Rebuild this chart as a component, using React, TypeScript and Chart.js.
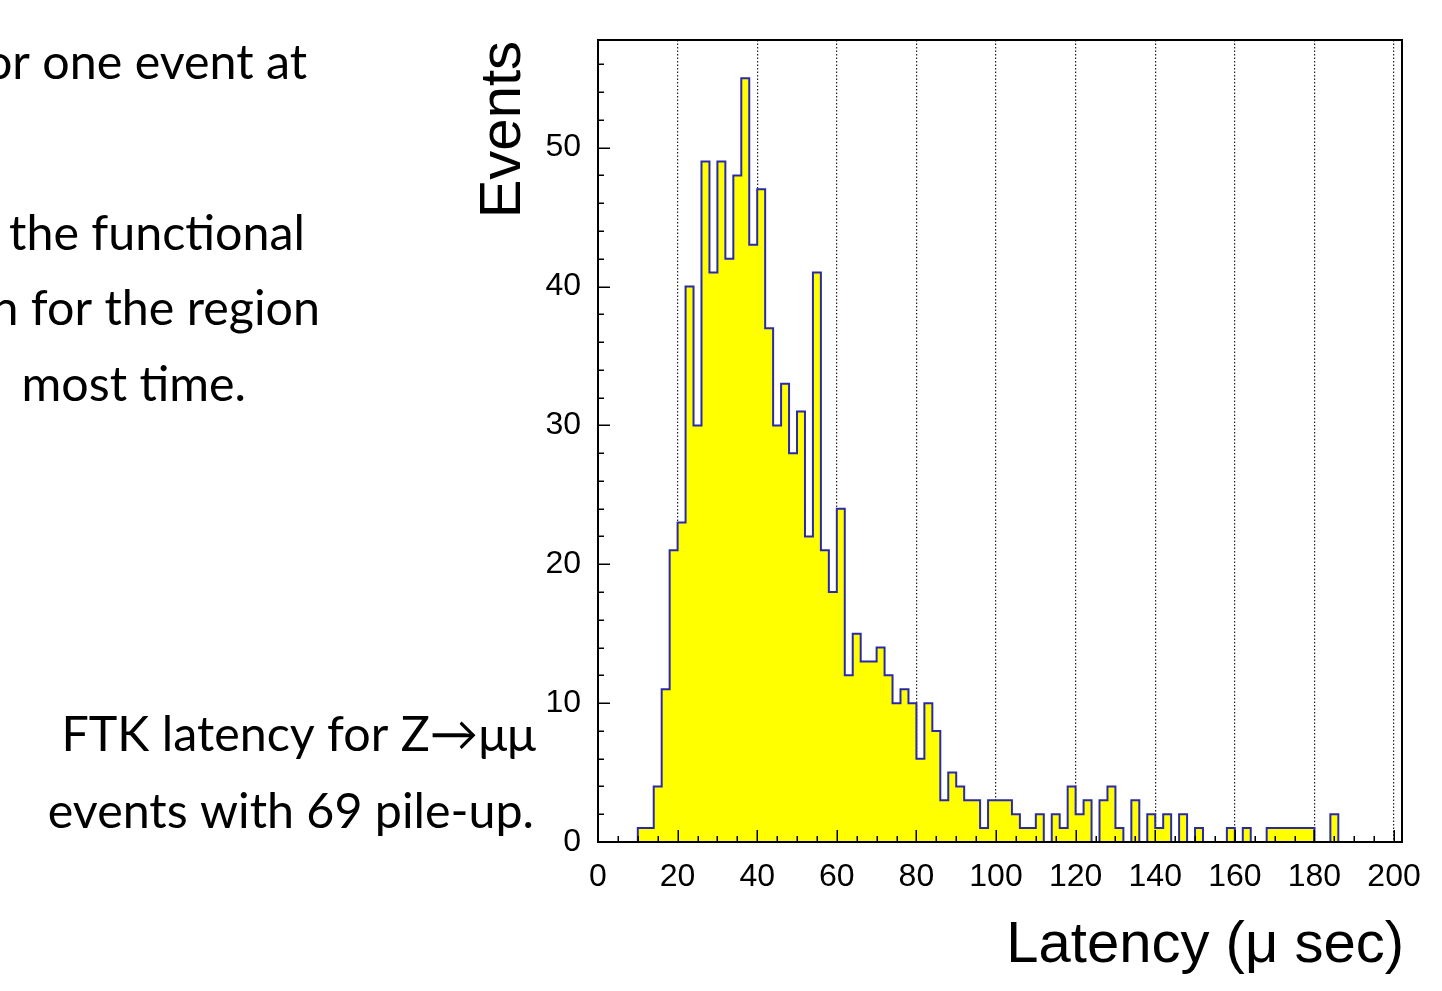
import React, { useEffect, useRef } from "react";
import { Chart, registerables } from "chart.js";

Chart.register(...registerables);

// ---- Data ----
const binStart = 0; // µs, left edge of first bin
const binWidth = 2; // µs
// Events per 2 µs bin, from 0 to 202 µs
const counts = [
  0, 0, 0, 0, 0, // 0-10
  1, 1, 4, 11, 21, // 10-20
  23, 40, 30, 49, 41, // 20-30
  49, 42, 48, 55, 43, // 30-40
  47, 37, 30, 33, 28, // 40-50
  31, 22, 41, 21, 18, // 50-60
  24, 12, 15, 13, 13, // 60-70
  14, 12, 10, 11, 10, // 70-80
  6, 10, 8, 3, 5, // 80-90
  4, 3, 3, 1, 3, // 90-100
  3, 3, 2, 1, 1, // 100-110
  2, 0, 2, 1, 4, // 110-120
  2, 3, 0, 3, 4, // 120-130
  1, 0, 3, 0, 2, // 130-140
  1, 2, 0, 2, 0, // 140-150
  1, 0, 0, 0, 1, // 150-160
  0, 1, 0, 0, 1, // 160-170
  1, 1, 1, 1, 1, // 170-180
  0, 0, 2, 0, 0, // 180-190
  0, 0, 0, 0, 0, // 190-200
  0, // 200-202
];

const xRange = [0, 202];
const yRange = [0, 57.75];
const xMajorStep = 20;
const xMinorStep = 5;
const yMajorStep = 10;
const yMinorStep = 2;

const xTitle = "Latency (\u03bc sec)";
const yTitle = "Events";

const slideLines = [
  "or one event at",
  "the functional",
  "n for the region",
  "most time.",
];
const captionLines = ["FTK latency for Z\u2192\u03bc\u03bc", "events with 69 pile-up."];

const HELV = "'Liberation Sans', Arial, Helvetica, sans-serif";
const BODY = "Lato, 'Noto Sans', sans-serif";

const decorations = {
  id: "decorations",
  afterDatasetsDraw(chart: any) {
    const { ctx, chartArea: a, scales } = chart;
    const x = scales.x;
    const y = scales.y;
    ctx.save();
    ctx.strokeStyle = "#000";
    ctx.lineWidth = 1.5;
    ctx.beginPath();
    for (let v = yRange[0]; v <= yRange[1]; v += yMinorStep) {
      const py = Math.round(y.getPixelForValue(v)) + 0.25;
      const len = v % yMajorStep === 0 ? 12 : 6;
      ctx.moveTo(a.left, py);
      ctx.lineTo(a.left + len, py);
    }
    for (let v = xRange[0]; v <= xRange[1]; v += xMinorStep) {
      const px = Math.round(x.getPixelForValue(v)) + 0.25;
      const len = v % xMajorStep === 0 ? 12 : 6;
      ctx.moveTo(px, a.bottom);
      ctx.lineTo(px, a.bottom - len);
    }
    ctx.stroke();
    ctx.lineWidth = 2;
    ctx.strokeRect(a.left, a.top, a.right - a.left, a.bottom - a.top);
    ctx.restore();
  },
  afterDraw(chart: any) {
    const { ctx } = chart;
    ctx.save();
    ctx.fillStyle = "#000";
    // axis titles
    ctx.font = `58px ${HELV}`;
    ctx.textAlign = "right";
    ctx.textBaseline = "alphabetic";
    ctx.fillText(xTitle, 1404, 962);
    ctx.save();
    ctx.translate(520, 41);
    ctx.rotate(-Math.PI / 2);
    ctx.fillText(yTitle, 0, 0);
    ctx.restore();

    // slide text
    ctx.font = `50px ${BODY}`;
    const w = ctx.measureText(slideLines[1]).width;
    const size = (50 * 296) / w;
    ctx.font = `${size}px ${BODY}`;
    ctx.textAlign = "right";
    const slideX = [307, 305, 320, 246];
    const slideY = [79, 250, 325, 401];
    slideLines.forEach((t, i) => ctx.fillText(t, slideX[i], slideY[i]));
    const capX = [536, 534];
    const capY = [751, 828];
    captionLines.forEach((t, i) => ctx.fillText(t, capX[i], capY[i]));
    ctx.restore();
  },
};

export default function App() {
  const ref = useRef<HTMLCanvasElement>(null);
  useEffect(() => {
    const points = counts.map((c, i) => ({ x: binStart + i * binWidth, y: c }));
    points.push({ x: binStart + counts.length * binWidth, y: counts[counts.length - 1] });
    const chart = new Chart(ref.current as HTMLCanvasElement, {
      type: "line",
      data: {
        datasets: [
          {
            data: points,
            stepped: "before",
            fill: "origin",
            backgroundColor: "#ffff00",
            borderColor: "#2a2aa8",
            borderWidth: 2,
            pointRadius: 0,
            tension: 0,
          },
        ],
      },
      options: {
        animation: false,
        responsive: false,
        devicePixelRatio: 1,
        layout: { padding: { left: 0, top: 40, right: 40, bottom: 0 } },
        plugins: { legend: { display: false }, tooltip: { enabled: false } },
        scales: {
          x: {
            type: "linear",
            min: xRange[0],
            max: xRange[1],
            afterFit: (s: any) => {
              s.height = 149;
            },
            ticks: {
              stepSize: xMajorStep,
              includeBounds: false,
              autoSkip: false,
              maxRotation: 0,
              padding: 16,
              color: "#000",
              font: { family: HELV, size: 32 },
            },
            grid: { display: true, color: "#222", lineWidth: 1.2, drawTicks: false },
            border: { display: false, dash: [1.5, 2] },
          },
          y: {
            type: "linear",
            min: yRange[0],
            max: yRange[1],
            afterFit: (s: any) => {
              s.width = 598;
            },
            ticks: {
              stepSize: yMajorStep,
              includeBounds: false,
              padding: 17,
              color: "#000",
              font: { family: HELV, size: 32 },
            },
            grid: { display: false, drawTicks: false },
            border: { display: false },
          },
        },
      },
      plugins: [decorations],
    });
    return () => chart.destroy();
  }, []);
  return (
    <div style={{ position: "absolute", left: 0, top: 0, width: 1442, height: 991, background: "#fff" }}>
      <canvas ref={ref} width={1442} height={991} style={{ display: "block", width: 1442, height: 991 }} />
    </div>
  );
}
